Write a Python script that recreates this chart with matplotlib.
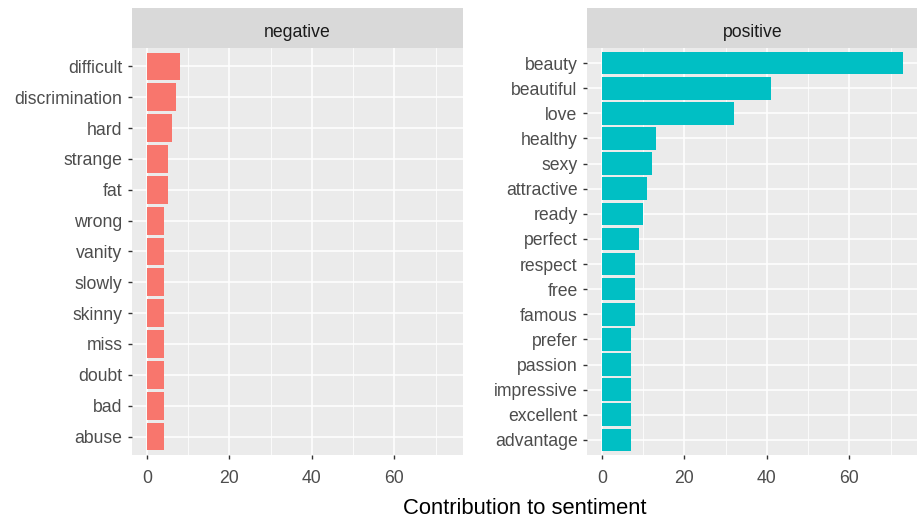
import numpy as np
import matplotlib
matplotlib.use("Agg")
import matplotlib.pyplot as plt

plt.rcParams['font.family'] = ['Liberation Sans', 'DejaVu Sans']

# word contributions, listed top to bottom as in the chart
neg_words = ['difficult', 'discrimination', 'hard', 'strange', 'fat', 'wrong', 'vanity',
             'slowly', 'skinny', 'miss', 'doubt', 'bad', 'abuse']
neg_values = [8, 7, 6, 5, 5, 4, 4, 4, 4, 4, 4, 4, 4]

pos_words = ['beauty', 'beautiful', 'love', 'healthy', 'sexy', 'attractive', 'ready',
             'perfect', 'respect', 'free', 'famous', 'prefer', 'passion', 'impressive',
             'excellent', 'advantage']
pos_values = [73, 41, 32, 13, 12, 11, 10, 9, 8, 8, 8, 7, 7, 7, 7, 7]

x_ticks = [0, 20, 40, 60]
x_minor = [10, 30, 50, 70]

panels = [('negative', neg_words, neg_values, '#F8766D'),
          ('positive', pos_words, pos_values, '#00BFC4')]

W, H = 917, 522
fig = plt.figure(figsize=(W / 100, H / 100), dpi=100)

xmax = max(max(neg_values), max(pos_values))
xlim = (-0.05 * xmax, xmax * 1.05)

lefts = [132, 587]
pw = 331
top, bottom, strip_top = 48, 455, 8

for left, (name, words, vals, col) in zip(lefts, panels):
    ax = fig.add_axes([left / W, (H - bottom) / H, pw / W, (bottom - top) / H])
    n = len(words)
    ypos = np.arange(n)[::-1] + 1
    ax.set_facecolor('#EBEBEB')
    for v in x_minor:
        ax.axvline(v, color='white', lw=0.55, zorder=0)
    for v in x_ticks:
        ax.axvline(v, color='white', lw=1.1, zorder=0)
    for y in ypos:
        ax.axhline(y, color='white', lw=1.1, zorder=0)
    ax.barh(ypos, vals, height=0.9, color=col, zorder=2)
    ax.set_xlim(*xlim)
    ax.set_ylim(0.4, n + 0.6)
    ax.set_yticks(ypos)
    ax.set_yticklabels(words)
    ax.set_xticks(x_ticks)
    ax.set_xticklabels([str(t) for t in x_ticks])
    ax.tick_params(axis='both', length=3, width=1, color='#333333',
                   labelcolor='#4D4D4D', labelsize=12.7)
    ax.tick_params(axis='y', pad=3.8)
    ax.tick_params(axis='x', pad=7.5)
    for s in ax.spines.values():
        s.set_visible(False)

    sax = fig.add_axes([left / W, (H - top) / H, pw / W, (top - strip_top) / H])
    sax.set_facecolor('#D9D9D9')
    sax.set_xticks([])
    sax.set_yticks([])
    for s in sax.spines.values():
        s.set_visible(False)
    sax.text(0.5, 0.27, name, ha='center', va='baseline', fontsize=12.7,
             color='#1A1A1A', transform=sax.transAxes)

fig.text((lefts[0] + lefts[1] + pw) / 2 / W, (H - 509) / H, 'Contribution to sentiment',
         ha='center', va='center', fontsize=15.8, color='black')

fig.savefig('out.png', dpi=100, facecolor='white')
